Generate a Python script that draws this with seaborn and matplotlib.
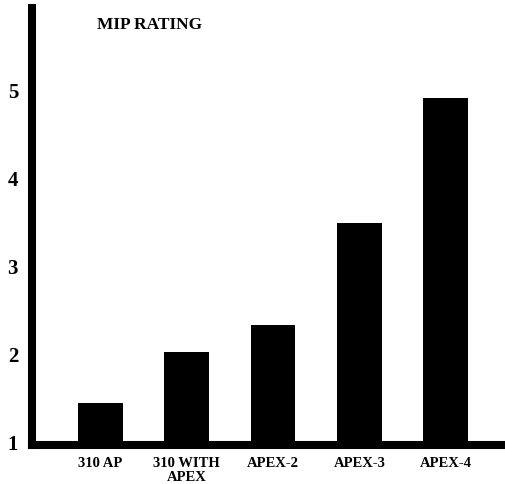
import matplotlib
matplotlib.use("Agg")
import matplotlib.pyplot as plt
import seaborn as sns

# Data
categories = ["310 AP", "310 WITH\nAPEX", "APEX-2", "APEX-3", "APEX-4"]
mip_rating = [1.44, 2.02, 2.32, 3.48, 4.90]
y_ticks = [1, 2, 3, 4, 5]

sns.set_style("white")
plt.rcParams["font.family"] = ["Liberation Serif", "DejaVu Serif"]

fig = plt.figure(figsize=(5.06, 4.85), dpi=100)
# axes: left spine at x=32px, bottom spine at y=446px, top at y=9px
ax = fig.add_axes([32 / 506, 1 - 446 / 485, 1 - 32 / 506, 437 / 485])

sns.barplot(x=categories, y=mip_rating, color="black", saturation=1,
            width=0.52, linewidth=0, ax=ax)

ax.set_xlim(-0.794, 4.70)
ax.set_ylim(0.96, 0.96 + 437 / 88)
ax.set_yticks(y_ticks)
ax.set_yticklabels([str(t) for t in y_ticks], fontsize=15, fontweight="bold",
                   color="black")
ax.set_xticks(range(len(categories)))
ax.set_xticklabels(categories, fontsize=10.5, fontweight="bold",
                   linespacing=1.1, color="black")
ax.tick_params(axis="y", length=0, pad=10)
ax.tick_params(axis="x", length=0, pad=8)
ax.set_xlabel("")
ax.set_ylabel("")

for side in ["top", "right"]:
    ax.spines[side].set_visible(False)
for side in ["left", "bottom"]:
    ax.spines[side].set_linewidth(5.8)
    ax.spines[side].set_color("black")
    ax.spines[side].set_capstyle("projecting")

fig.text(150 / 506, 1 - 25 / 485, "MIP RATING", ha="center", va="center",
         fontsize=12.5, fontweight="bold", color="black")

fig.savefig("out.png", dpi=100)
